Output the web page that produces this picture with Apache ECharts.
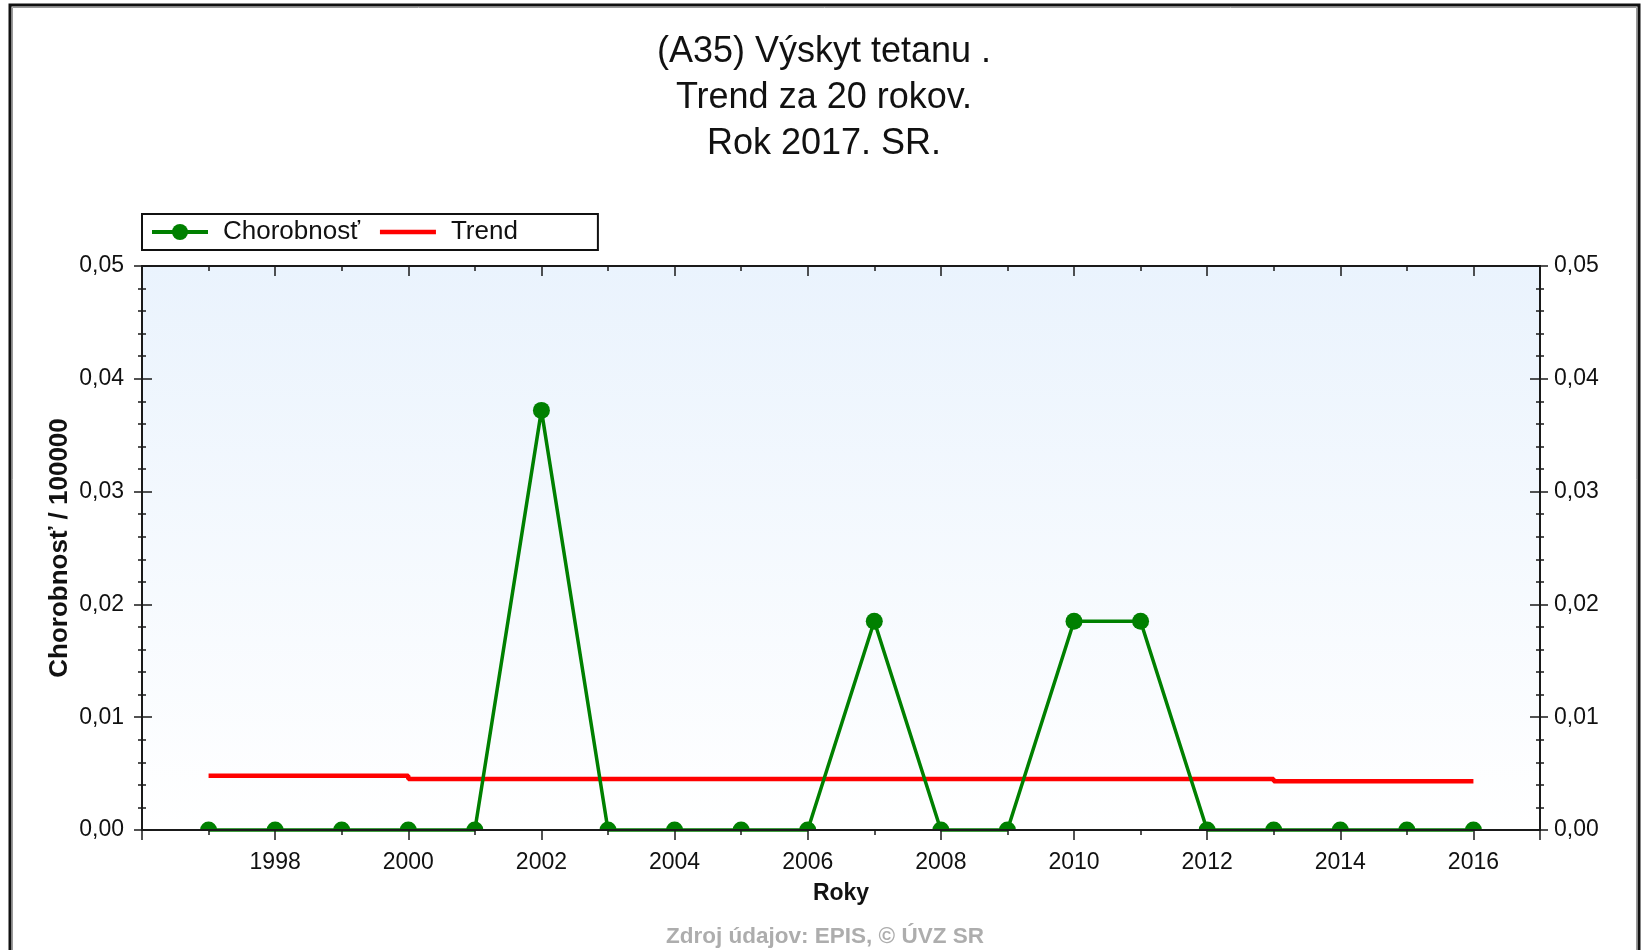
<!DOCTYPE html>
<html>
<head>
<meta charset="utf-8">
<script src="https://cdn.jsdelivr.net/npm/echarts@6/dist/echarts.min.js"></script>
<style>
html,body{margin:0;padding:0;background:#fff;}
#chart{width:1642px;height:950px;}
</style>
</head>
<body>
<div id="chart"></div>
<script>
// ---- data ----
const years = [1997, 1998, 1999, 2000, 2001, 2002, 2003, 2004, 2005, 2006,
               2007, 2008, 2009, 2010, 2011, 2012, 2013, 2014, 2015, 2016];
const incidence = [0, 0, 0, 0, 0, 0.0372, 0, 0, 0, 0,
                   0.0185, 0, 0, 0.0185, 0.0185, 0, 0, 0, 0, 0];
const trend = [0.0048, 0.0048, 0.0048, 0.0048, 0.00452, 0.00452, 0.00452, 0.00452, 0.00452, 0.00452,
               0.00452, 0.00452, 0.00452, 0.00452, 0.00452, 0.00452, 0.00452, 0.00433, 0.00433, 0.00433];
const titleLines = ['(A35) Výskyt tetanu .', 'Trend za 20 rokov.', 'Rok 2017. SR.'];
const seriesNames = ['Chorobnosť', 'Trend'];
const xName = 'Roky';
const yName = 'Chorobnosť / 100000';
const sourceText = 'Zdroj údajov: EPIS, © ÚVZ SR';

const SANS = "'Liberation Sans', Arial, sans-serif";
const AX = '#1a1a1a';
const MARK = 17;
// marker clipped by the plot edge: only upper half visible
const HALF = 'path://M0,10 A10,10 0 0 1 20,10 Z';

const chart = echarts.init(document.getElementById('chart'), null, {renderer: 'canvas'});

const xBase = {
  type: 'value', min: 1996, max: 2017, interval: 2,
  splitLine: {show: false}, minorSplitLine: {show: false},
  axisLine: {show: true, onZero: false, lineStyle: {color: AX, width: 2}},
  z: 5
};
const yBase = {
  type: 'value', min: 0, max: 0.05, interval: 0.01,
  splitLine: {show: false}, minorSplitLine: {show: false},
  axisLine: {show: true, onZero: false, lineStyle: {color: AX, width: 2}},
  z: 5
};
const yFmt = v => v.toFixed(2).replace('.', ',');

const chorData = years.map((y, i) => {
  const item = {value: [y, incidence[i]]};
  if (incidence[i] === 0) {
    item.symbol = HALF;
    item.symbolSize = [MARK, MARK / 2];
    item.symbolOffset = [0, -MARK / 4];
  }
  return item;
});

const option = {
  backgroundColor: '#ffffff',
  animation: false,
  title: {
    text: titleLines.join('\n'),
    left: 824, top: 29, padding: 0,
    textAlign: 'center',
    textStyle: {fontFamily: SANS, fontSize: 36, fontWeight: 'normal', color: '#111', lineHeight: 46}
  },
  legend: {
    data: [{name: seriesNames[0]},
           {name: seriesNames[1], icon: 'path://M0,0 L56,0 L56,4.5 L0,4.5 Z'}],
    left: 142, top: 214,
    orient: 'horizontal',
    borderColor: '#111', borderWidth: 2,
    padding: [5, 80, 5, 8],
    itemWidth: 56, itemHeight: 20, itemGap: 20,
    symbolKeepAspect: true,
    lineStyle: {width: 4},
    textStyle: {fontFamily: SANS, fontSize: 26, color: '#111', padding: [0, 0, 0, 10]}
  },
  grid: {
    left: 142, right: 102, top: 266, bottom: 120,
    show: true, borderWidth: 0,
    backgroundColor: {
      type: 'linear', x: 0, y: 0, x2: 0, y2: 1,
      colorStops: [{offset: 0, color: '#eaf3fd'}, {offset: 1, color: '#ffffff'}]
    }
  },
  xAxis: [
    Object.assign({}, xBase, {
      position: 'bottom',
      axisTick: {show: true, inside: false, length: 10, lineStyle: {color: AX, width: 1.5}},
      minorTick: {show: true, splitNumber: 2, length: 5, lineStyle: {color: AX, width: 1.5}},
      axisLabel: {show: true, showMinLabel: false, showMaxLabel: false, margin: 21,
                  formatter: v => String(v),
                  fontFamily: SANS, fontSize: 23, color: '#111'},
      name: xName, nameLocation: 'middle', nameGap: 52,
      nameTextStyle: {fontFamily: SANS, fontSize: 23, fontWeight: 'bold', color: '#111'}
    }),
    Object.assign({}, xBase, {
      position: 'top',
      axisTick: {show: true, inside: true, length: 10, lineStyle: {color: AX, width: 1.5}},
      minorTick: {show: true, splitNumber: 2, length: 5, lineStyle: {color: AX, width: 1.5}},
      axisLabel: {show: false}
    })
  ],
  yAxis: [
    Object.assign({}, yBase, {
      position: 'left',
      axisTick: {show: true, inside: false, length: 8, lineStyle: {color: AX, width: 1.5}},
      minorTick: {show: true, splitNumber: 5, length: 4, lineStyle: {color: AX, width: 1.5}},
      axisLabel: {show: true, margin: 18, formatter: yFmt, fontFamily: SANS, fontSize: 23, color: '#111'},
      name: yName, nameLocation: 'middle', nameGap: 69, nameRotate: 90,
      nameMoveOverlap: false,
      nameTextStyle: {fontFamily: SANS, fontSize: 26, fontWeight: 'bold', color: '#111'}
    }),
    Object.assign({}, yBase, {
      position: 'left',
      axisTick: {show: true, inside: true, length: 10, lineStyle: {color: AX, width: 1.5}},
      minorTick: {show: true, splitNumber: 5, length: 4, lineStyle: {color: AX, width: 1.5}},
      axisLabel: {show: false}
    }),
    Object.assign({}, yBase, {
      position: 'right',
      axisTick: {show: true, inside: false, length: 8, lineStyle: {color: AX, width: 1.5}},
      minorTick: {show: true, splitNumber: 5, length: 4, lineStyle: {color: AX, width: 1.5}},
      axisLabel: {show: true, margin: 14, formatter: yFmt, fontFamily: SANS, fontSize: 23, color: '#111'}
    }),
    Object.assign({}, yBase, {
      position: 'right',
      axisTick: {show: true, inside: true, length: 10, lineStyle: {color: AX, width: 1.5}},
      minorTick: {show: true, splitNumber: 5, length: 4, lineStyle: {color: AX, width: 1.5}},
      axisLabel: {show: false}
    })
  ],
  series: [
    {
      name: seriesNames[0], type: 'line', xAxisIndex: 0, yAxisIndex: 0,
      data: chorData,
      symbol: 'circle', symbolSize: MARK, showAllSymbol: true,
      lineStyle: {color: '#008000', width: 3.5},
      itemStyle: {color: '#008000'},
      z: 3, clip: false
    },
    {
      name: seriesNames[1], type: 'line', xAxisIndex: 0, yAxisIndex: 0,
      data: years.map((y, i) => [y, trend[i]]),
      step: 'start', showSymbol: false, symbol: 'none',
      lineStyle: {color: '#ff0000', width: 4.5},
      itemStyle: {color: '#ff0000'},
      z: 2
    }
  ],
  graphic: [
    // outer frame
    {type: 'rect', z: 10, silent: true,
     shape: {x: 10, y: 5, width: 1629, height: 1000},
     style: {fill: 'none', stroke: '#111', lineWidth: 3}},
    {type: 'rect', z: 10, silent: true,
     shape: {x: 12.5, y: 7.5, width: 1624, height: 1000},
     style: {fill: 'none', stroke: '#9a9a9a', lineWidth: 1}},
    {type: 'text', z: 10, silent: true,
     x: 825, y: 937,
     style: {text: sourceText, align: 'center', verticalAlign: 'middle',
             font: "bold 22.5px 'Liberation Sans', Arial, sans-serif", fill: '#adadad'}}
  ]
};
chart.setOption(option);
</script>
</body>
</html>
